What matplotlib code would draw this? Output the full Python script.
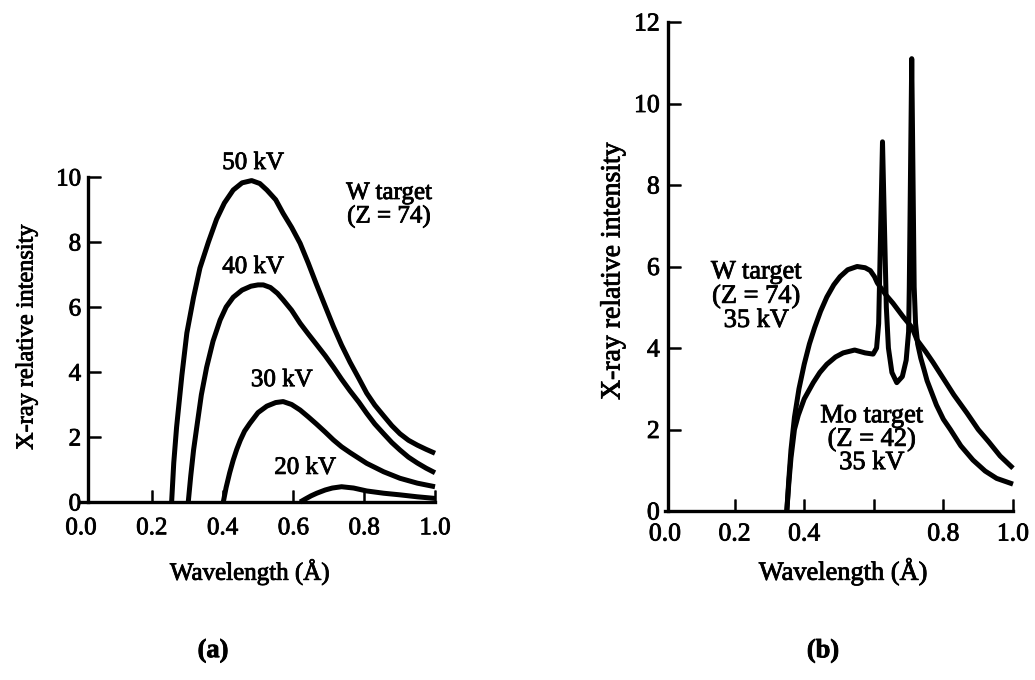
import matplotlib
matplotlib.use('Agg')
import matplotlib.pyplot as plt
import matplotlib.patheffects as pe

plt.rcParams['font.family'] = ['Liberation Serif', 'DejaVu Serif']
# scanned print looks a bit heavier than plain Times
plt.rcParams['path.effects'] = [pe.withStroke(linewidth=0.6, foreground='black')]

# (a) W target continuous spectra
wl_50kv = [0.256, 0.262, 0.27, 0.285, 0.299, 0.318, 0.336, 0.36, 0.383, 0.405, 0.43, 0.455, 0.482,
           0.505, 0.525, 0.55, 0.571, 0.595, 0.619, 0.642, 0.665, 0.69, 0.713, 0.736, 0.76, 0.785,
           0.807, 0.83, 0.855, 0.878, 0.901, 0.925, 0.95, 0.975, 1.0]
int_50kv = [0, 1.2, 2.3, 3.9, 5.2, 6.3, 7.2, 8.0, 8.7, 9.2, 9.6, 9.82, 9.89,
            9.8, 9.6, 9.3, 8.88, 8.45, 7.96, 7.35, 6.7, 6.02, 5.4, 4.83, 4.3, 3.8,
            3.35, 2.98, 2.65, 2.35, 2.1, 1.9, 1.75, 1.62, 1.5]

wl_40kv = [0.303, 0.31, 0.318, 0.327, 0.34, 0.355, 0.373, 0.393, 0.41, 0.43, 0.455, 0.48, 0.5,
           0.515, 0.535, 0.555, 0.571, 0.595, 0.619, 0.642, 0.665, 0.69, 0.713, 0.736, 0.76, 0.785,
           0.807, 0.83, 0.855, 0.878, 0.901, 0.925, 0.95, 0.975, 1.0]
int_40kv = [0, 0.8, 1.6, 2.3, 3.3, 4.15, 4.95, 5.6, 6.0, 6.3, 6.52, 6.64, 6.68,
            6.68, 6.6, 6.42, 6.22, 5.9, 5.5, 5.17, 4.85, 4.5, 4.15, 3.78, 3.42, 3.07,
            2.73, 2.4, 2.1, 1.83, 1.6, 1.38, 1.2, 1.04, 0.9]

wl_30kv = [0.402, 0.41, 0.42, 0.43, 0.44, 0.45, 0.462, 0.477, 0.5, 0.525, 0.55, 0.571, 0.595, 0.619,
           0.642, 0.665, 0.69, 0.713, 0.736, 0.76, 0.807, 0.855, 0.901, 0.95, 1.0]
int_30kv = [0, 0.45, 0.9, 1.29, 1.62, 1.9, 2.18, 2.42, 2.75, 2.95, 3.06, 3.09, 3.0, 2.83,
            2.62, 2.4, 2.15, 1.91, 1.7, 1.52, 1.19, 0.93, 0.73, 0.58, 0.47]

wl_20kv = [0.619, 0.635, 0.65, 0.666, 0.69, 0.71, 0.736, 0.77, 0.807, 0.855, 0.901, 0.95, 1.0]
int_20kv = [0, 0.1, 0.19, 0.27, 0.37, 0.43, 0.47, 0.43, 0.34, 0.27, 0.22, 0.16, 0.11]

curve_labels_a = ['50 kV', '40 kV', '30 kV', '20 kV']

# (b) W and Mo targets at 35 kV
wl_w35 = [0.35, 0.356, 0.362, 0.372, 0.385, 0.4, 0.415, 0.43, 0.447, 0.465, 0.485, 0.503, 0.525,
          0.552, 0.575, 0.59, 0.602, 0.61, 0.635, 0.655, 0.684, 0.71, 0.724, 0.75, 0.77, 0.8,
          0.83, 0.868, 0.9, 0.93, 0.963, 1.0]
int_w35 = [0, 0.8, 1.5, 2.3, 3.0, 3.6, 4.1, 4.5, 4.9, 5.25, 5.55, 5.75, 5.92,
           6.0, 5.97, 5.9, 5.75, 5.6, 5.3, 5.1, 4.77, 4.5, 4.2, 3.9, 3.65, 3.25,
           2.85, 2.4, 2.0, 1.7, 1.35, 1.05]

wl_mo35 = [0.35, 0.356, 0.362, 0.372, 0.383, 0.4, 0.426, 0.445, 0.465, 0.49, 0.512, 0.545, 0.575,
           0.598, 0.608, 0.614, 0.625, 0.636, 0.642, 0.652, 0.666, 0.682, 0.693, 0.7, 0.702, 0.709,
           0.716, 0.72, 0.726, 0.735, 0.745, 0.753, 0.78, 0.8, 0.82, 0.85, 0.885, 0.92, 0.953, 1.0]
int_mo35 = [0, 0.7, 1.3, 2.0, 2.35, 2.75, 3.15, 3.4, 3.6, 3.78, 3.88, 3.95, 3.88,
            3.85, 4.0, 4.6, 9.06, 5.0, 4.0, 3.4, 3.15, 3.3, 3.7, 4.4, 5.5, 11.1,
            5.5, 4.6, 4.1, 3.75, 3.45, 3.2, 2.6, 2.25, 2.0, 1.6, 1.25, 0.98, 0.8, 0.66]

x_ticks = [0.0, 0.2, 0.4, 0.6, 0.8, 1.0]
x_ticklabels_a = ['0.0', '0.2', '0.4', '0.6', '0.8', '1.0']
x_ticklabels_b = ['0.0', '0.2', '0.4', '', '0.8', '1.0']
y_ticks_a = [0, 2, 4, 6, 8, 10]
y_ticks_b = [0, 2, 4, 6, 8, 10, 12]

W, H = 1035, 680


def style_axes(ax, spine_x, ymax, yticks, xticklabels, tick_size, xpad, ypad):
    ax.set_xlim(0, 1.0)
    ax.set_ylim(0, ymax)
    ax.spines['top'].set_visible(False)
    ax.spines['right'].set_visible(False)
    ax.spines['left'].set_position(('data', spine_x))
    ax.spines['left'].set_bounds(0, ymax)
    ax.spines['bottom'].set_bounds(0, 1.0)
    for s in ('left', 'bottom'):
        ax.spines[s].set_linewidth(2.4)
    ax.set_xticks(x_ticks)
    ax.set_xticklabels(xticklabels)
    ax.set_yticks(yticks)
    ax.tick_params(axis='both', direction='in', length=9, width=1.8, labelsize=tick_size)
    ax.tick_params(axis='x', pad=xpad)
    ax.tick_params(axis='y', pad=ypad)
    # no tick line at 0.0, the y axis sits there
    ax.xaxis.get_major_ticks()[0].tick1line.set_visible(False)
    ax.patch.set_visible(False)


fig = plt.figure(figsize=(W / 100, H / 100), dpi=100)

# panel (a)
ax1 = fig.add_axes([81 / W, (H - 502) / H, 354 / W, 325 / H])
line_kw = dict(color='black', lw=3.6, solid_capstyle='butt', solid_joinstyle='round', clip_on=False)
ax1.plot(wl_50kv, int_50kv, **line_kw)
ax1.plot(wl_40kv, int_40kv, **line_kw)
ax1.plot(wl_30kv, int_30kv, **line_kw)
ax1.plot(wl_20kv, int_20kv, **line_kw)
style_axes(ax1, 0.02, 10, y_ticks_a, x_ticklabels_a, 18, 11, 5)

ax1.text(0.486, 10.43, curve_labels_a[0], fontsize=18, ha='center', va='center')
ax1.text(0.486, 7.23, curve_labels_a[1], fontsize=18, ha='center', va='center')
ax1.text(0.567, 3.75, curve_labels_a[2], fontsize=18, ha='center', va='center')
ax1.text(0.633, 1.05, curve_labels_a[3], fontsize=18, ha='center', va='center')
ax1.text(0.87, 9.14, 'W target\n(Z = 74)', fontsize=18, ha='center', va='center',
         multialignment='center', linespacing=1.05)

fig.text(27 / W, 1 - 337 / H, 'X-ray relative intensity', fontsize=17.5,
         rotation=90, ha='center', va='center')
fig.text(250 / W, 1 - 572 / H, 'Wavelength (Å)', fontsize=18, ha='center', va='center')
fig.text(213 / W, 1 - 651 / H, '(a)', fontsize=19, fontweight='bold', ha='center', va='center')

# panel (b)
ax2 = fig.add_axes([665 / W, (H - 511) / H, 348 / W, 489 / H])
ax2.plot(wl_w35, int_w35, **line_kw)
ax2.plot(wl_mo35, int_mo35, **line_kw)
style_axes(ax2, 0.009, 12, y_ticks_b, x_ticklabels_b, 18.5, 9, 6)

ax2.text(0.262, 5.26, 'W target\n(Z = 74)\n35 kV', fontsize=19, ha='center', va='center',
         multialignment='center', linespacing=1.1)
ax2.text(0.594, 1.75, 'Mo target\n(Z = 42)\n35 kV', fontsize=19, ha='center', va='center',
         multialignment='center', linespacing=1.05)

fig.text(613 / W, 1 - 271 / H, 'X-ray relative intensity', fontsize=20,
         rotation=90, ha='center', va='center')
fig.text(843 / W, 1 - 572 / H, 'Wavelength (Å)', fontsize=19, ha='center', va='center')
fig.text(823 / W, 1 - 651 / H, '(b)', fontsize=19, fontweight='bold', ha='center', va='center')

plt.savefig('out.png', dpi=100)
